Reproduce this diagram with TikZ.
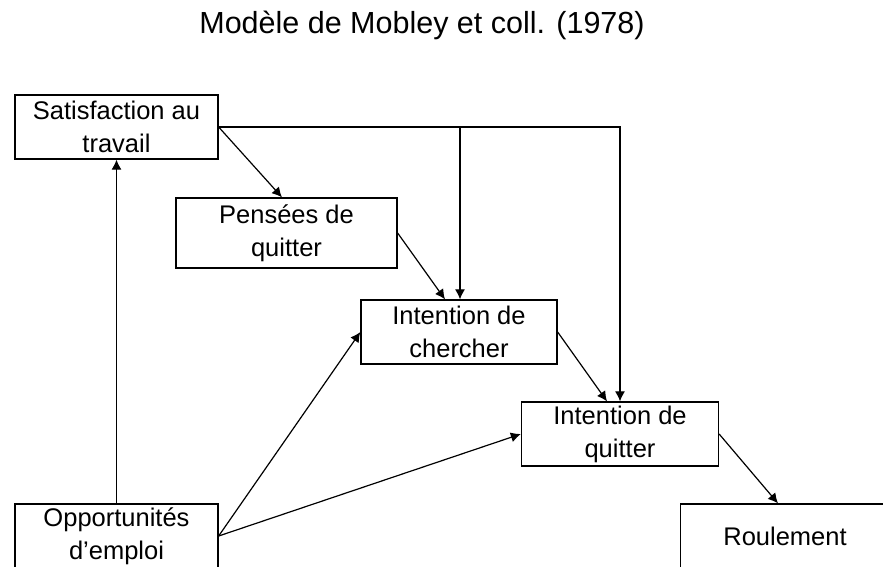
\documentclass[tikz,border=0pt]{standalone}
\usepackage{fontspec}
\setmainfont{Liberation Sans}
\usetikzlibrary{arrows.meta}
\begin{document}
\begin{tikzpicture}[x=1pt,y=-1pt,
  box/.style={draw, line width=1.3pt, inner sep=0pt, align=center, font=\fontsize{25.5}{33}\selectfont},
  conn/.style={line width=1.2pt, -{Latex[length=10pt,width=10pt]}},
  titlefont/.style={font=\fontsize{30.5}{36}\selectfont}]
\useasboundingbox (0,0) rectangle (883,566);
\clip (0,0) rectangle (883,566);
\node[titlefont, anchor=base] (title) at (422,33) {Modèle de Mobley et coll. (1978)};
\node[box, minimum width=203pt, minimum height=64pt] (sat) at (116.5,127) {Satisfaction au\\travail};
\node[box, minimum width=221pt, minimum height=70pt] (pensees) at (286.5,233) {Pensées de\\quitter};
\node[box, minimum width=196pt, minimum height=64pt] (chercher) at (459,332) {Intention de\\chercher};
\node[box, minimum width=197pt, minimum height=64pt] (quitter) at (620,434) {Intention de\\quitter};
\node[box, minimum width=209pt, minimum height=64pt] (roul) at (785,536) {Roulement};
\node[box, minimum width=203pt, minimum height=64pt] (opp) at (116.5,536) {Opportunités\\d’emploi};
\coordinate (c282) at (282,0);
\coordinate (c460) at (460,0);
\coordinate (c620) at (620,0);
\coordinate (c445) at (445,0);
\coordinate (c607) at (607,0);
\coordinate (c778) at (778,0);
\draw[conn] (sat.east) -- (c282 |- pensees.north);
\draw[conn] (sat.east) -- (c620 |- sat.east) -- (quitter.north);
\draw[conn] (c460 |- sat.east) -- (c460 |- chercher.north);
\draw[conn] (pensees.east) -- (c445 |- chercher.north);
\draw[conn] (chercher.east) -- (c607 |- quitter.north);
\draw[conn] (quitter.east) -- (c778 |- roul.north);
\draw[conn] (opp.north) -- (sat.south);
\draw[conn] (opp.east) -- (chercher.west);
\draw[conn] (opp.east) -- (quitter.west);
\end{tikzpicture}
\end{document}
